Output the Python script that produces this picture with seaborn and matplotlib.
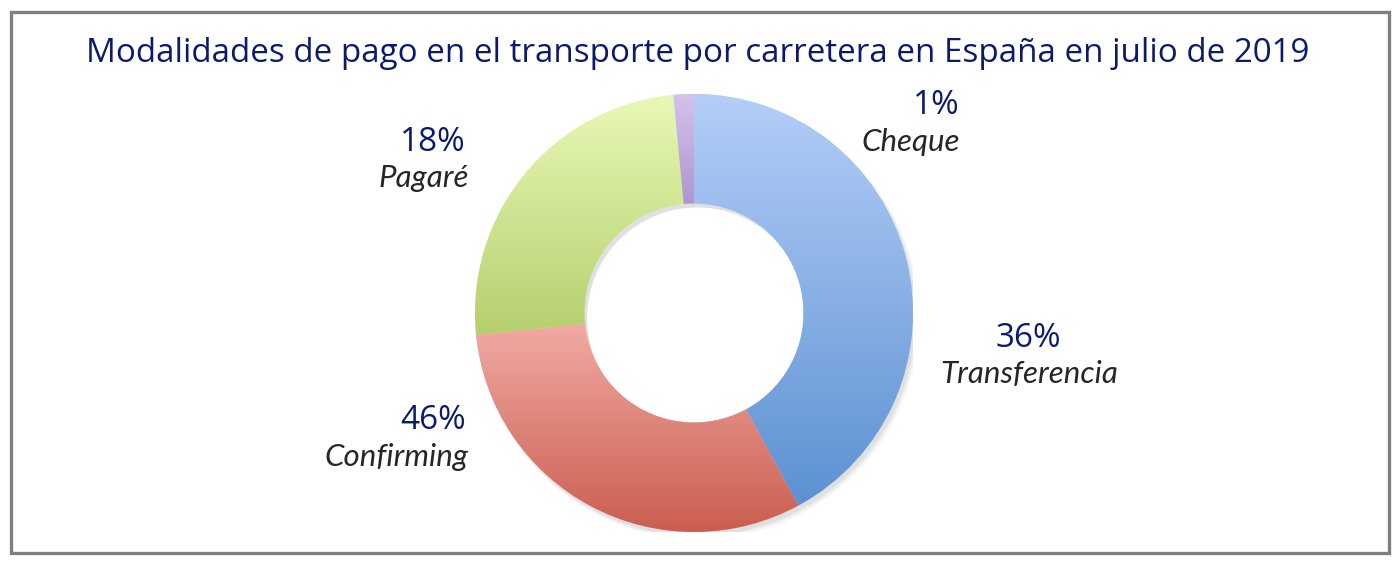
import numpy as np
import matplotlib
matplotlib.use("Agg")
import matplotlib.pyplot as plt
import seaborn as sns
from matplotlib.patches import Rectangle, Wedge

# ---- data ----
categories = ["Transferencia", "Confirming", "Pagaré", "Cheque"]
slice_values = [42.1, 31.3, 25.1, 1.5]          # visual share of each slice
label_pcts = ["36%", "46%", "18%", "1%"]         # printed labels
title = "Modalidades de pago en el transporte por carretera en España en julio de 2019"

grad_top = ["#B4CEF8", "#F3AEA8", "#E8F9B7", "#D4C2EB"]
grad_bottom = ["#5C91D2", "#CA5E4F", "#B6CF6E", "#8A6AB3"]

sns.set_theme(style="white")
plt.rcParams["font.family"] = ["Open Sans", "DejaVu Sans"]

W, H = 1400, 567
fig = plt.figure(figsize=(W / 100, H / 100), dpi=100)
fig.patch.set_facecolor("white")

def fx(x):
    return x / W

def fy(y):
    return 1 - y / H

# border
fig.add_artist(Rectangle((fx(10.5), fy(552.5)), fx(1388.5) - fx(10.5), fy(12) - fy(552.5),
                         transform=fig.transFigure, fill=False, edgecolor="#7F7F7F", lw=2.4))

# donut axes: center (694,313), radius 219 px
cx, cy, R = 694, 313, 219
ax = fig.add_axes([fx(cx - R), fy(cy + R), 2 * R / W, 2 * R / H])
wedges, _ = ax.pie(slice_values, startangle=90, counterclock=False, radius=1,
                   wedgeprops=dict(width=0.5, edgecolor="none", linewidth=0),
                   colors=grad_top)
ax.set_xlim(-1, 1)
ax.set_ylim(-1, 1)
ax.set_aspect("equal")
ax.axis("off")

# soft shadow
for k, a in enumerate([0.05, 0.04, 0.03]):
    sh = Wedge((0.012 + 0.004 * k, -0.018 - 0.004 * k), 1.0 + 0.004 * k, 0, 360, width=0.5,
               facecolor="black", alpha=a, edgecolor="none", zorder=0)
    ax.add_patch(sh)

# gradient fills
for w, top, bot in zip(wedges, grad_top, grad_bottom):
    w.set_zorder(1)
    path = w.get_path()
    verts = w.get_transform().transform(path.vertices)
    verts = ax.transData.inverted().transform(verts)
    x0, x1 = verts[:, 0].min(), verts[:, 0].max()
    y0, y1 = verts[:, 1].min(), verts[:, 1].max()
    cmap = sns.blend_palette([bot, top], n_colors=256, as_cmap=True)
    grad = np.linspace(1, 0, 256).reshape(-1, 1)
    im = ax.imshow(grad, cmap=cmap, extent=[x0, x1, y0, y1], aspect="auto",
                   origin="upper", zorder=2, interpolation="bicubic")
    im.set_clip_path(w)
ax.set_xlim(-1, 1)
ax.set_ylim(-1, 1)

# title
fig.text(fx(697.5), fy(62), title, ha="center", va="baseline", fontsize=23.9,
         color="#0B1A6E")

# labels
pct_kw = dict(fontsize=24, color="#0B1A6E", family=["Open Sans", "DejaVu Sans"], va="baseline")
name_kw = dict(fontsize=22.5, color="#262626", style="italic", family=["Lato", "DejaVu Sans"], va="baseline")

# Transferencia
fig.text(fx(1028), fy(347), label_pcts[0], ha="center", **pct_kw)
fig.text(fx(1029), fy(383), categories[0], ha="center", **name_kw)
# Confirming
fig.text(fx(466), fy(429), label_pcts[1], ha="right", **pct_kw)
fig.text(fx(468), fy(466), categories[1], ha="right", **name_kw)
# Pagaré
fig.text(fx(466), fy(151), label_pcts[2], ha="right", **pct_kw)
fig.text(fx(469), fy(187), categories[2], ha="right", **name_kw)
# Cheque
fig.text(fx(960), fy(114), label_pcts[3], ha="right", **pct_kw)
fig.text(fx(960), fy(151), categories[3], ha="right", **name_kw)

fig.savefig("out.png", dpi=100, facecolor="white")
